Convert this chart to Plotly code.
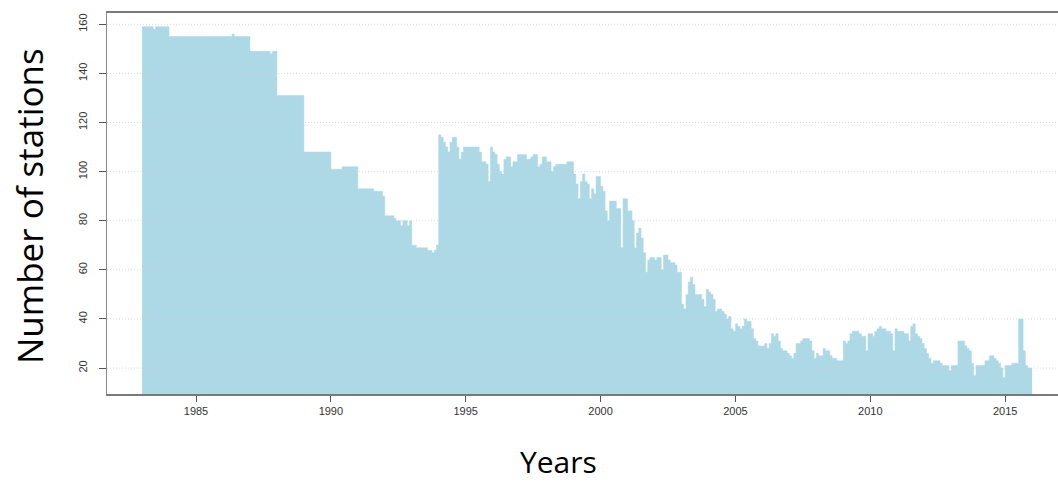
import plotly.graph_objects as go

# Monthly number of reporting stations, starting January 1983
start_year = 1983

counts_1983_1989 = [
    159, 159, 159, 159, 159, 158, 159, 159, 159, 159, 159, 159,
    155, 155, 155, 155, 155, 155, 155, 155, 155, 155, 155, 155,
    155, 155, 155, 155, 155, 155, 155, 155, 155, 155, 155, 155,
    155, 155, 155, 155, 156, 155, 155, 155, 155, 155, 155, 155,
    149, 149, 149, 149, 149, 149, 149, 149, 149, 148, 149, 149,
    131, 131, 131, 131, 131, 131, 131, 131, 131, 131, 131, 131,
    108, 108, 108, 108, 108, 108, 108, 108, 108, 108, 108, 108,
]

counts_1990_1999 = [
    101, 101, 101, 101, 101, 102, 102, 102, 102, 102, 102, 102,
    93, 93, 93, 93, 93, 93, 93, 92, 92, 92, 92, 90,
    82, 82, 82, 82, 81, 80, 80, 78, 80, 80, 78, 80,
    70, 70, 69, 69, 69, 69, 69, 68, 68, 67, 68, 70,
    115, 114, 112, 110, 108, 112, 114, 114, 110, 105, 108, 110,
    110, 110, 110, 110, 110, 110, 108, 104, 104, 103, 96, 110,
    108, 107, 103, 100, 99, 105, 106, 106, 102, 104, 104, 107,
    107, 107, 107, 105, 105, 106, 107, 107, 102, 103, 106, 106,
    104, 104, 100, 102, 103, 103, 103, 103, 103, 104, 104, 104,
    99, 95, 89, 96, 99, 96, 95, 89, 93, 91, 98, 98,
]

counts_2000_2009 = [
    94, 92, 84, 80, 88, 88, 88, 85, 85, 69, 89, 89,
    84, 84, 80, 69, 75, 77, 73, 67, 59, 64, 65, 65,
    64, 65, 65, 60, 66, 66, 64, 63, 63, 62, 59, 59,
    46, 44, 50, 55, 57, 54, 50, 50, 50, 48, 45, 52,
    51, 50, 48, 43, 44, 44, 43, 42, 40, 41, 36, 35,
    38, 37, 36, 37, 40, 39, 39, 36, 32, 31, 29, 29,
    29, 30, 28, 30, 34, 33, 34, 31, 28, 27, 27, 26,
    25, 24, 26, 30, 30, 31, 32, 32, 32, 31, 27, 24,
    26, 25, 25, 28, 27, 27, 25, 24, 24, 23, 23, 23,
    31, 30, 31, 34, 35, 35, 35, 34, 33, 33, 27, 34,
]

counts_2010_2015 = [
    34, 33, 35, 36, 37, 36, 36, 35, 35, 34, 27, 36,
    35, 35, 35, 34, 34, 31, 37, 38, 34, 33, 32, 30,
    28, 26, 24, 22, 23, 23, 23, 22, 21, 21, 21, 19,
    21, 21, 21, 31, 31, 31, 29, 28, 27, 22, 17, 21,
    21, 21, 21, 23, 23, 25, 25, 24, 23, 22, 20, 16,
    21, 21, 21, 22, 22, 22, 40, 40, 27, 21, 20, 20,
]

x_ticks = [1985, 1990, 1995, 2000, 2005, 2010, 2015]
y_ticks = [20, 40, 60, 80, 100, 120, 140, 160]

counts = counts_1983_1989 + counts_1990_1999 + counts_2000_2009 + counts_2010_2015
months = [start_year + i / 12 for i in range(len(counts))]

# repeat the last value so the final month's step is closed
xs = months + [start_year + len(counts) / 12]
ys = counts + [counts[-1]]

fill_color = "#ADD8E6"

fig = go.Figure()
fig.add_trace(go.Scatter(
    x=xs, y=ys,
    mode="lines",
    line=dict(shape="hv", color=fill_color, width=0.5),
    fill="tozeroy",
    fillcolor=fill_color,
    hoverinfo="x+y",
    showlegend=False,
))

# fine dotted reference lines drawn over the filled area
for v in y_ticks:
    fig.add_shape(
        type="line", xref="paper", yref="y",
        x0=0, x1=1, y0=v, y1=v,
        line=dict(color="rgba(205,205,205,0.75)", width=1, dash="1px,2px"),
        layer="above",
    )

tick_font = dict(family="Liberation Sans, Arial, sans-serif", size=11, color="#333333")
x_title_font = dict(family="Open Sans, Noto Sans, sans-serif", size=30, color="#000000")
y_title_font = dict(family="Open Sans, Noto Sans, sans-serif", size=35, color="#000000")

fig.update_layout(
    width=1058, height=482,
    margin=dict(l=107, r=0, t=13, b=88),
    paper_bgcolor="white",
    plot_bgcolor="white",
    xaxis=dict(
        range=[1981.70, 2016.96],
        tickvals=x_ticks,
        ticktext=[str(t) for t in x_ticks],
        ticks="outside", ticklen=6, tickcolor="#555555", tickwidth=1,
        showgrid=False, zeroline=False,
        showline=True, mirror=True, linecolor="#7a7a7a", linewidth=1.5,
        tickfont=tick_font,
    ),
    yaxis=dict(
        range=[9.43, 164.6],
        tickvals=y_ticks,
        ticktext=[str(t) for t in y_ticks],
        tickangle=-90,
        ticks="outside", ticklen=7, tickcolor="#555555", tickwidth=1,
        ticklabelstandoff=8,
        showgrid=False, zeroline=False,
        showline=True, linecolor="#8a8a8a", linewidth=1,
        tickfont=tick_font,
    ),
    annotations=[
        dict(text="Years", xref="paper", yref="paper",
             x=0.475, y=-0.178, xanchor="center", yanchor="middle",
             showarrow=False, font=x_title_font),
        dict(text="Number of stations", xref="paper", yref="paper",
             x=-0.082, y=0.4934, xanchor="center", yanchor="middle",
             textangle=-90, showarrow=False, font=y_title_font),
    ],
)

fig.write_html("out.html")
